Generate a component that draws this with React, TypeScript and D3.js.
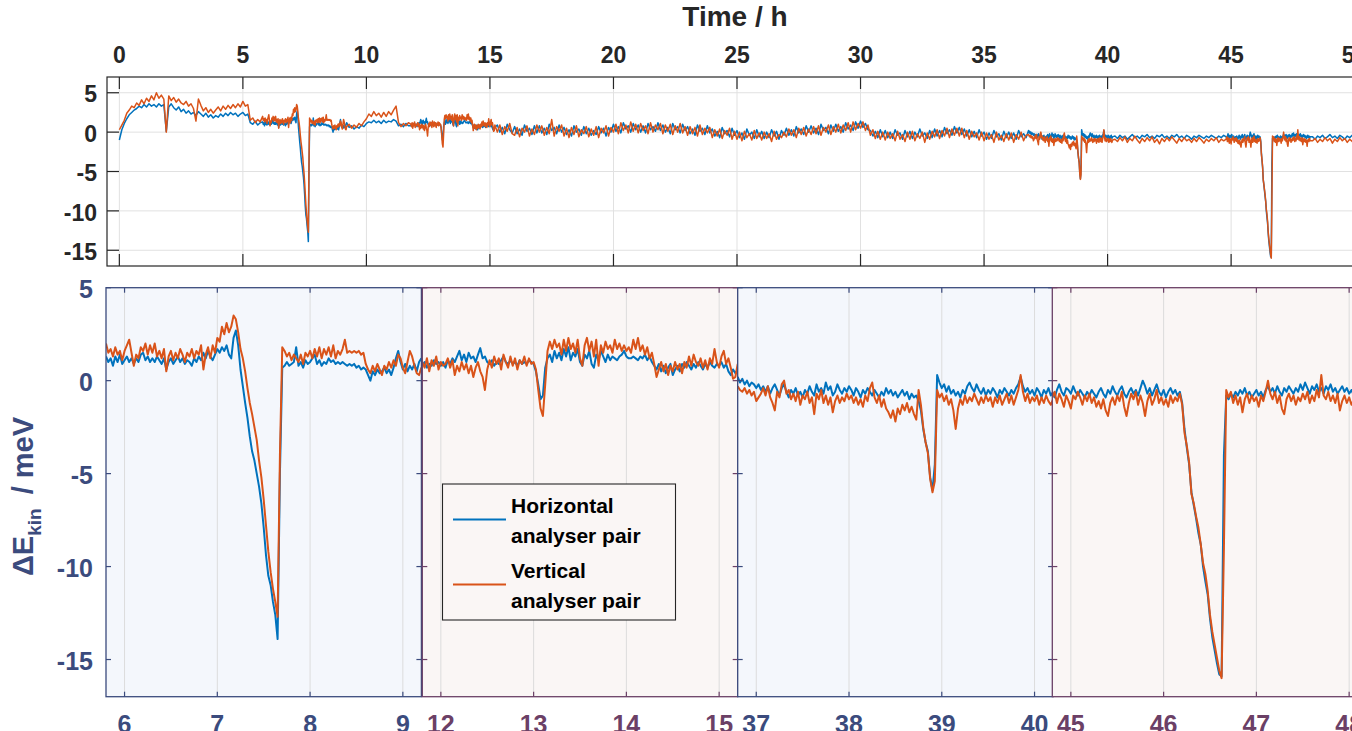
import React from 'react';
import * as d3 from 'd3';

// ---------------- DATA ----------------
// Overview (top panel) sampled every 0.1 h, windows (bottom panels) every 0.025 h
const overviewStep = 0.1;
const windowStep = 0.025;
const overviewStarts = [0, 9.3, 15.3, 40.3, 48.3];
const windowLimits: [number, number][] = [[5.8, 9.2], [11.8, 15.2], [36.8, 40.2], [44.8, 48.2]];

const hOverA = [-1.0,0.3,1.1,1.7,2.2,2.5,2.8,3.0,3.3,3.1,
3.5,3.2,3.6,3.3,3.5,3.2,3.6,3.3,3.5,0.1,
3.2,3.6,3.1,2.8,3.2,2.6,2.9,2.4,2.7,2.3,
2.5,2.1,2.6,2.3,2.0,2.4,1.9,2.2,1.8,2.1,
1.9,2.3,2.0,2.4,2.1,2.5,2.2,2.4,2.0,2.3,
2.5,2.1,2.3,1.2,1.0,1.4,0.9,1.2];
const vOverA = [0.3,0.9,1.5,2.4,2.8,3.3,3.1,3.7,3.4,4.1,
3.6,4.3,3.9,4.6,4.1,5.0,4.3,4.7,4.2,0.0,
4.6,4.0,4.4,3.8,4.2,3.7,3.5,3.9,3.3,3.6,
3.0,1.4,4.2,3.4,2.7,3.1,2.5,2.9,2.4,2.8,
3.2,2.7,3.3,2.9,3.4,3.0,3.5,3.1,3.6,3.2,
3.9,3.3,3.5,1.5,1.8,1.2,1.6,1.3];

const hOverB = [0.6,0.8,0.4,0.7,0.5,0.9,0.7,1.1,1.3,1.2,1.5,1.2,1.4,1.1,1.5,1.2,1.4,1.3,1.6,1.4,0.8,1.0,0.7,1.1,0.8];
const vOverB = [1.0,0.5,0.9,0.6,1.1,0.8,1.3,1.7,2.3,2.0,2.6,2.1,2.4,1.9,2.5,2.0,2.6,2.2,2.8,3.3,1.2,0.7,1.1,0.8,1.2];

const hOverC = [0.9,0.0,0.6,-0.2,1.0,0.3,-0.1,
0.7,-0.2,0.4,-0.4,0.9,0.1,0.5,-0.3,0.8,-0.1,
0.8,-0.1,0.5,-0.3,1.0,0.2,0.6,-0.2,0.9,0.0,
0.6,-0.3,0.3,-0.5,0.8,0.0,0.4,-0.4,0.7,-0.2,
0.5,-0.4,0.2,-0.3,0.7,-0.1,0.5,-0.5,0.6,0.0,
1.0,0.1,0.7,-0.1,1.2,0.4,0.8,0.0,1.1,0.3,
0.9,0.0,0.8,-0.1,1.1,0.3,0.7,0.1,1.2,0.2,
0.9,0.0,0.6,-0.2,1.1,0.3,0.7,-0.1,1.0,0.2,
0.7,-0.2,0.4,-0.4,0.9,0.1,0.5,-0.3,0.8,-0.1,
0.4,-0.5,0.1,-0.7,0.6,-0.2,0.2,-0.6,0.5,-0.4,
0.2,-0.7,-0.1,-0.9,0.4,-0.4,0.0,-0.8,0.3,-0.6,
0.1,-0.8,0.0,-0.7,0.3,-0.5,0.1,-0.9,0.2,-0.4,
0.5,-0.4,0.3,-0.5,0.7,-0.1,0.4,-0.3,0.8,0.0,
0.8,-0.1,0.5,-0.3,1.0,0.2,0.6,-0.2,0.9,0.1,
1.0,0.1,0.7,0.0,1.2,0.4,0.9,0.2,1.3,0.5,
1.4,0.6,1.1,0.3,0.2,-0.5,0.1,-0.7,0.3,-0.6,
0.2,-0.7,0.0,-0.8,0.3,-0.4,-0.1,-0.9,0.2,-0.6,
0.1,-0.8,0.0,-0.6,0.4,-0.5,-0.1,-0.8,0.2,-0.7,
0.4,-0.5,0.2,-0.6,0.6,-0.2,0.3,-0.4,0.7,-0.1,
0.6,-0.3,0.4,-0.5,0.3,-0.6,0.1,-0.7,0.3,-0.5,
0.0,-0.9,-0.1,-0.8,0.2,-0.6,-0.2,-1.0,0.1,-0.7,
0.0,-0.8,-0.1,-0.9,0.2,-0.6,-0.2,-0.7];
const vOverC = [0.0,0.9,-0.3,0.7,0.1,1.1,-0.2,
-0.4,0.6,-0.6,0.5,0.0,0.8,-0.5,0.4,-0.3,0.9,
0.0,0.8,-0.4,0.6,-0.2,1.6,-0.5,0.7,0.1,0.9,
-0.5,0.5,-0.7,0.6,-0.3,0.8,-0.6,0.3,-0.2,0.7,
-0.6,0.4,-0.4,0.7,-0.7,0.5,-0.1,0.8,-0.5,0.6,
0.0,1.0,-0.2,1.2,0.2,0.9,-0.1,1.3,0.1,1.0,
-0.1,1.1,0.2,0.8,-0.2,1.2,0.0,0.9,0.3,1.1,
-0.2,0.9,0.1,1.0,-0.3,0.8,0.0,1.1,-0.1,0.7,
-0.4,0.7,-0.2,0.6,-0.5,0.9,-0.3,0.5,-0.1,0.6,
-0.7,0.3,-0.5,0.4,-0.8,0.2,-0.4,0.5,-0.9,0.1,
-0.9,0.0,-1.1,0.1,-0.7,-0.2,-1.0,0.2,-0.8,-0.1,
-1.0,0.0,-0.8,-0.2,-1.2,0.1,-0.9,-0.3,-0.7,0.0,
-0.6,0.4,-0.4,0.3,-0.7,0.5,-0.3,0.6,-0.5,0.4,
-0.3,0.7,-0.2,0.8,-0.4,0.6,0.0,0.9,-0.3,0.7,
0.0,1.0,-0.1,0.9,0.2,1.2,0.0,1.3,0.3,1.1,
0.5,1.3,0.2,0.9,-0.4,0.3,-0.8,0.1,-0.9,0.0,
-1.0,0.0,-0.8,-0.2,-1.1,0.1,-0.9,-0.3,-1.2,0.0,
-0.9,0.1,-1.1,-0.2,-0.8,0.0,-1.3,-0.1,-0.9,0.1,
-0.6,0.3,-0.8,0.2,-0.5,0.5,-0.7,0.4,-0.4,0.5,
-0.5,0.5,-0.7,0.2,-0.9,0.1,-0.6,-0.1,-1.0,0.0,
-1.1,-0.1,-0.9,-0.3,-1.3,0.0,-1.0,-0.4,-1.2,-0.2,
-1.0,-0.1,-1.3,-0.3,-0.9,0.0,-1.1,-0.4];

const hOverD = [-0.5,-0.8,-0.4,-0.7,-0.5,-0.9,-0.6,
-0.3,-0.7,-0.5,-0.8,-0.4,-0.6,-0.3,-0.7,-0.5,-0.8,
-0.4,-0.6,-0.3,-0.7,-0.5,-0.8,-0.4,-0.6,-0.3,-0.7,
-0.5,-0.8,-0.4,-0.6,-0.9,-0.5,-0.7,-0.4,-0.6,-0.8,
-0.5,-0.7,-0.4,-0.6,-0.8,-0.5,-0.7,-0.4];
const vOverD = [-0.9,-1.2,-0.7,-1.1,-0.6,-1.3,-0.8,
-1.1,-0.5,-1.0,-1.4,-0.8,-1.2,-0.7,-1.1,-0.6,-1.3,
-0.9,-1.5,-0.8,-1.2,-0.7,-1.1,-0.6,-1.0,-1.4,-0.8,
-1.2,-0.7,-1.1,-0.9,-1.3,-0.8,-1.2,-0.7,-1.0,-1.4,
-0.9,-1.2,-0.8,-1.1,-0.7,-1.3,-0.9,-1.1];

const hOverE = [-0.6,-0.9,-0.5,-0.7,-0.4,-0.8,-0.6,-0.3,-0.7,-0.5,-0.8,-0.4,-0.6,-0.9,-0.5,-0.7,-0.4,-0.6,-0.8,-0.5,-0.7,-0.4,-0.6,-0.8];
const vOverE = [-1.1,-0.8,-1.3,-0.9,-1.2,-0.7,-1.1,-0.8,-1.4,-0.9,-1.2,-0.7,-1.1,-0.8,-1.3,-0.9,-1.2,-0.7,-1.1,-0.8,-1.2,-0.9,-1.1,-0.8];

const hWin1 = [1.3,1.0,1.2,0.8,1.3,1.0,1.4,0.9,
1.1,1.3,1.0,1.2,0.9,1.2,1.0,1.4,
1.5,1.1,1.3,1.0,1.2,1.0,1.3,1.1,
0.9,1.2,0.6,1.0,1.2,0.9,1.1,1.3,
1.0,1.2,0.9,1.1,1.0,0.8,1.2,1.0,
1.3,1.1,1.5,1.2,1.6,1.3,1.1,1.4,
1.7,1.5,1.8,1.6,1.9,1.4,1.2,2.3,
2.7,1.9,0.6,-0.3,-1.2,-2.0,-3.0,-3.8,
-4.3,-5.0,-5.7,-6.6,-7.9,-9.4,-10.5,-11.0,
-11.9,-12.6,-13.9,-5.0,0.7,0.8,1.0,0.8,
0.9,1.0,1.8,0.8,1.0,0.7,1.1,0.9,
1.0,1.2,1.4,0.9,1.1,0.8,1.0,0.9,
1.2,1.0,1.1,0.9,1.0,0.9,1.0,0.9,
0.8,0.9,0.8,0.9,0.7,0.8,0.6,0.7,
0.6,0.3,0.0,0.5,0.3,0.6,0.4,0.5,
0.7,0.4,0.6,0.3,0.7,1.2,1.6,1.0,
0.6,0.9,0.5,0.8,0.6,0.9,0.5,1.0,
1.2];
const vWin1 = [2.0,1.5,1.7,1.3,1.8,1.4,1.6,1.1,
1.6,1.9,2.2,1.5,0.8,1.4,1.2,1.8,
1.6,2.0,1.4,1.9,1.5,2.0,1.3,1.6,
1.2,1.7,0.5,1.3,1.6,1.1,1.5,1.2,
1.7,1.4,1.0,1.5,1.3,1.7,1.2,1.6,
1.4,1.9,0.6,1.4,1.8,1.2,1.9,1.5,
2.3,2.1,2.9,2.5,3.1,2.6,2.9,3.5,
3.3,2.6,1.7,1.2,0.5,-0.4,-1.2,-1.8,
-2.5,-3.2,-4.3,-5.2,-6.4,-7.8,-9.2,-10.3,
-11.2,-11.9,-12.7,-4.0,1.8,1.6,1.3,1.5,
1.1,1.4,1.2,1.0,1.4,0.9,1.5,1.3,
1.6,1.2,1.7,1.3,1.8,1.2,1.7,1.4,
1.8,1.3,1.9,1.2,1.6,1.4,1.7,2.2,
1.5,1.6,1.5,1.6,1.5,1.6,1.4,1.5,
0.9,0.6,0.4,0.8,0.5,0.9,0.6,0.3,
0.8,0.6,1.0,0.7,1.1,0.8,1.4,1.2,
0.7,0.4,1.0,1.6,1.3,0.8,0.4,0.3,
0.7];

const hWin2 = [0.8,1.0,0.7,0.9,0.8,1.1,0.9,1.0,
0.8,1.0,0.7,1.1,0.9,1.2,1.0,1.3,
1.6,1.1,1.4,1.0,1.5,1.2,1.3,1.0,
1.4,1.75,1.2,1.3,1.0,0.9,1.1,0.8,
1.0,0.9,1.1,1.3,1.0,0.9,1.1,0.9,
1.0,0.8,1.1,0.9,1.0,0.9,1.1,1.0,
0.9,0.5,-0.2,-1.0,-0.8,0.7,1.2,1.4,
1.0,1.6,1.2,1.5,1.1,1.7,1.3,1.8,
1.1,1.5,1.3,1.7,1.0,0.8,1.4,1.2,
1.6,0.9,0.7,1.4,1.1,1.6,1.3,1.0,
1.4,1.1,1.3,1.2,1.1,1.3,1.4,1.6,
1.3,1.2,1.2,1.3,1.2,1.1,1.3,1.2,
1.4,1.1,1.3,1.0,0.8,0.6,0.9,0.5,
0.8,0.4,0.7,0.9,0.3,0.6,0.8,0.5,
0.9,0.7,1.0,0.8,0.6,0.9,0.7,1.0,
0.8,0.6,0.9,0.7,1.0,0.8,0.7,0.9,
0.8,1.0,0.7,0.9,0.5,0.3,0.6,0.4,
0.6];
const vWin2 = [1.0,0.7,1.2,0.5,1.1,0.8,1.3,0.6,
1.0,0.8,0.9,1.2,0.7,1.1,0.3,0.8,
0.5,1.0,0.6,0.9,0.4,0.8,0.2,0.7,
1.0,0.5,0.2,-0.5,0.6,1.1,0.7,1.3,
0.9,1.2,0.6,1.4,1.0,0.7,1.3,0.8,
1.2,0.6,1.1,0.9,1.3,0.8,1.2,0.9,
1.0,0.6,-0.5,-1.5,-1.9,-0.2,1.6,2.1,
1.7,2.2,1.8,2.0,1.4,2.2,1.6,2.3,
1.7,2.0,1.5,2.2,1.2,0.8,1.9,2.3,
1.6,2.1,1.3,2.2,0.8,1.9,1.5,2.1,
1.7,1.9,1.5,2.2,1.7,2.0,1.6,1.9,
1.6,1.8,1.5,2.2,1.7,2.3,1.6,1.9,
1.4,1.8,1.2,1.5,0.9,0.2,0.6,1.0,
0.5,0.9,0.3,0.8,0.5,1.0,0.6,0.9,
0.4,1.0,0.7,1.3,0.8,1.4,1.0,0.8,
1.2,0.7,1.1,0.6,1.2,0.9,1.7,1.0,
0.7,1.3,1.6,0.9,1.2,0.7,0.1,0.2,
0.9];

const hWin3 = [0.2,-0.1,0.1,-0.2,0.0,-0.3,-0.1,-0.2,
-0.4,-0.2,-0.5,-0.3,-0.6,-0.3,-0.7,-0.4,
-0.2,-0.5,-0.8,-0.4,-0.2,-0.6,-0.9,-0.5,
-0.7,-0.4,-0.8,-0.6,-0.9,-0.5,-0.7,-0.3,
-0.6,-0.8,-0.2,-0.6,-0.4,-0.7,-0.1,-0.5,
-0.3,-0.8,-0.6,-0.2,-0.5,-0.7,-0.4,-0.6,
-0.3,-0.5,-0.8,-0.4,-0.6,-0.9,-0.5,-0.7,
-0.4,-0.6,-0.8,-0.5,-0.7,-0.9,-0.6,-0.8,
-0.4,-0.7,-0.5,-0.8,-0.6,-0.9,-0.7,-0.5,
-0.8,-0.6,-1.0,-0.7,-0.9,-0.8,-1.1,-1.6,
-2.6,-3.3,-3.8,-5.2,-5.9,-4.5,0.3,-0.1,
-0.4,-0.2,-0.6,-0.3,-0.7,-0.5,-0.8,-0.6,
-0.9,-0.5,-0.7,-0.3,-0.1,-0.4,-0.6,-0.2,
-0.5,-0.7,-0.4,-0.8,-0.5,-0.7,-0.4,-0.6,
-0.9,-0.5,-0.7,-0.4,-0.6,-0.8,-0.5,-0.7,
-0.4,-0.2,0.2,-0.3,-0.6,-0.4,-0.7,-0.5,
-0.8,-0.4,-0.6,-0.9,-0.5,-0.7,-0.4,-0.8,
-0.6];
const vWin3 = [-0.3,-0.5,-0.6,-0.4,-0.7,-0.5,-0.8,-0.6,
-1.1,-0.9,-0.7,-0.4,-0.8,-0.3,-0.9,-1.2,
-1.6,-0.6,-0.9,-0.2,0.0,-0.7,-0.5,-1.0,
-0.7,-1.1,-0.6,-1.3,-0.8,-1.0,-0.6,-1.2,
-0.9,-1.8,-0.7,-1.0,-0.5,-1.2,-0.8,-1.3,
-0.9,-1.7,-1.1,-0.8,-1.2,-0.9,-1.1,-0.7,
-1.0,-0.8,-1.2,-0.9,-1.3,-1.0,-1.4,-0.8,
-1.1,-0.4,-0.1,-0.9,-1.2,-0.8,-1.4,-1.0,
-1.5,-1.7,-2.0,-1.6,-2.2,-1.5,-1.8,-1.3,
-1.6,-1.2,-1.7,-1.4,-1.8,-2.1,-0.5,-1.3,
-2.5,-3.3,-3.9,-5.3,-6.0,-5.4,-0.5,-0.9,
-0.7,-1.1,-0.8,-1.3,-1.0,-1.6,-2.6,-1.5,
-1.0,-1.3,-0.8,-1.2,-0.9,-1.1,-0.7,-1.0,
-1.3,-0.9,-1.2,-0.8,-1.1,-0.9,-1.4,-0.9,
-1.2,-0.8,-1.3,-1.0,-0.7,-1.2,-0.8,-1.3,
-0.9,-0.5,0.3,-0.6,-1.1,-0.7,-1.2,-0.9,
-1.1,-0.8,-1.3,-0.9,-1.2,-0.8,-1.1,-1.3,
-1.0];

const hWin4 = [-0.6,-0.9,-0.5,-0.2,-0.6,-0.8,-0.4,-0.5,
-0.7,-0.3,-0.6,-0.8,-0.5,-0.7,-0.9,-0.6,
-0.8,-0.5,-0.7,-0.9,-0.6,-0.4,-0.7,-0.9,
-0.5,-0.7,-0.3,-0.6,-0.8,-0.5,-0.3,-0.7,
-0.9,-0.6,-0.4,-0.7,-0.5,-0.8,-0.4,0.0,
-0.3,-0.7,-0.4,-0.8,-0.5,-0.2,-0.6,-0.8,
-0.5,-0.9,-0.6,-0.4,-0.7,-0.5,-0.8,-0.6,
-1.2,-2.6,-3.6,-4.5,-6.0,-6.7,-7.4,-8.2,
-8.8,-10.0,-10.8,-11.5,-12.8,-13.8,-14.5,-15.2,
-15.8,-15.9,-4.0,-0.8,-1.0,-0.7,-0.9,-0.6,
-0.8,-0.5,-0.7,-0.4,-0.8,-0.6,-0.9,-0.7,
-0.5,-0.8,-0.6,-0.9,-0.5,-0.3,-0.6,-0.4,
-0.7,-0.3,-0.6,-0.8,-0.4,-0.6,-0.3,-0.5,
-0.7,-0.4,-0.6,-0.2,-0.5,-0.1,-0.4,-0.7,
-0.3,-0.5,-0.2,-0.6,-0.4,-0.7,-0.3,-0.5,
-0.2,-0.6,-0.4,-0.7,-0.5,-0.3,-0.6,-0.4,
-0.7,-0.5,-0.8,-0.6,-0.4,-0.7,-0.5,-0.8,
-0.6];
const vWin4 = [-0.9,-0.6,-1.2,-0.7,-1.0,-1.4,-0.8,-1.1,
-1.5,-0.8,-1.0,-0.6,-0.9,-1.3,-0.8,-1.1,
-0.7,-1.2,-0.9,-1.4,-1.1,-1.5,-1.0,-1.6,
-1.9,-1.2,-0.9,-1.3,-0.8,-1.1,-0.6,-1.4,
-1.9,-1.2,-0.7,-1.0,-0.6,-1.3,-0.8,-1.2,
-1.9,-1.1,-0.7,-1.3,-1.0,-0.5,-1.2,-0.9,
-1.3,-1.0,-1.4,-0.8,-1.2,-0.9,-1.1,-0.7,
-1.3,-2.8,-3.5,-4.4,-6.1,-6.6,-7.3,-7.9,
-8.8,-9.8,-10.4,-11.3,-12.6,-13.5,-14.2,-14.9,
-15.6,-16.0,-9.0,-0.5,-0.9,-0.6,-1.2,-0.8,
-1.3,-0.9,-1.7,-1.0,-0.7,-1.2,-0.8,-1.1,
-0.9,-1.4,-0.8,-1.1,-0.6,0.0,-0.7,-1.0,
-0.6,-1.2,-0.8,-1.5,-1.8,-1.0,-0.7,-1.1,
-0.8,-1.3,-0.9,-1.1,-0.7,-1.0,-0.6,-1.2,
-0.8,-1.1,-0.5,-0.9,0.3,-0.8,-1.0,-0.6,
-1.1,-0.8,-1.2,-0.7,-1.6,-1.1,-0.8,-1.2,
-0.9,-1.3,-1.0,-1.8,-1.1,-0.9,-1.2,-0.8,
-1.1];

const topXTicks = [0, 5, 10, 15, 20, 25, 30, 35, 40, 45, 50];
const yTicks = [5, 0, -5, -10, -15];
const seriesNames = ['Horizontal analyser pair', 'Vertical analyser pair'];

// ---------------- STYLE ----------------
const FONT = "'Liberation Sans', Arial, Helvetica, sans-serif";
const BLUE = '#0072BD';
const ORANGE = '#D95319';
const AXIS = '#262626';
const GRID = '#e1e1e1';
const NAVY = '#3b4b7d';
const PLUM = '#6b4066';
const themes = [
  { bg: '#f4f7fc', stroke: NAVY },
  { bg: '#faf6f5', stroke: PLUM },
  { bg: '#f4f7fc', stroke: NAVY },
  { bg: '#faf6f5', stroke: PLUM },
];

type Pt = [number, number];
const seg = (start: number, step: number, vals: number[]): Pt[] =>
  vals.map((v, i) => [start + i * step, v] as Pt);

export default function App() {
  const hOver = [hOverA, hOverB, hOverC, hOverD, hOverE];
  const vOver = [vOverA, vOverB, vOverC, vOverD, vOverE];
  const hWin = [hWin1, hWin2, hWin3, hWin4];
  const vWin = [vWin1, vWin2, vWin3, vWin4];

  const build = (over: number[][], win: number[][]) => {
    const pts: Pt[] = [];
    over.forEach((o, k) => {
      pts.push(...seg(overviewStarts[k], overviewStep, o));
      if (k < win.length) pts.push(...seg(windowLimits[k][0], windowStep, win[k]));
    });
    return pts.sort((a, b) => a[0] - b[0]);
  };
  const hAll = build(hOver, hWin);
  const vAll = build(vOver, vWin);

  // top axes
  const tL = 107, tR = 1367, tT = 77, tB = 266;
  const xTop = d3.scaleLinear().domain([-0.5, 50.5]).range([tL, tR]);
  const yTop = d3.scaleLinear().domain([-17, 7]).range([tB, tT]);
  const lineTop = d3.line<Pt>().x(d => xTop(d[0])).y(d => yTop(d[1]));

  // bottom panels
  const bT = 287.7, bB = 696.7;
  const panelLeft = [106, 422.3, 737.7, 1052.3];
  const panelW = 315.4;
  const yBot = d3.scaleLinear().domain([-17, 5]).range([bB, bT]);
  const tickLen = 12;
  const smallTick = 5;

  return (
    <svg width={1352} height={731} style={{ position: 'absolute', left: 0, top: 0, background: '#fff' }}
      fontFamily={FONT} fontWeight="bold">
      <defs>
        <clipPath id="clipTop"><rect x={tL} y={tT} width={tR - tL} height={tB - tT} /></clipPath>
        {panelLeft.map((l, i) => (
          <clipPath id={`clipP${i}`} key={i}><rect x={l} y={bT} width={panelW} height={bB - bT} /></clipPath>
        ))}
      </defs>

      {/* ---------- TOP AXES ---------- */}
      <rect x={tL} y={tT} width={tR - tL} height={tB - tT} fill="#fff" />
      {topXTicks.map(t => (
        <line key={'gx' + t} x1={xTop(t)} x2={xTop(t)} y1={tT} y2={tB} stroke={GRID} strokeWidth={1} />
      ))}
      {yTicks.map(t => (
        <line key={'gy' + t} x1={tL} x2={tR} y1={yTop(t)} y2={yTop(t)} stroke={GRID} strokeWidth={1} />
      ))}
      <g clipPath="url(#clipTop)" fill="none" strokeLinejoin="round">
        <path d={lineTop(hAll) || ''} stroke={BLUE} strokeWidth={1.5} />
        <path d={lineTop(vAll) || ''} stroke={ORANGE} strokeWidth={1.5} />
      </g>
      <rect x={tL} y={tT} width={tR - tL} height={tB - tT} fill="none" stroke={AXIS} strokeWidth={1.2} />
      {topXTicks.map(t => (
        <g key={'tx' + t}>
          <line x1={xTop(t)} x2={xTop(t)} y1={tT} y2={tT + tickLen} stroke={AXIS} strokeWidth={1.2} />
          <line x1={xTop(t)} x2={xTop(t)} y1={tB} y2={tB - tickLen} stroke={AXIS} strokeWidth={1.2} />
          <text x={xTop(t)} y={63} textAnchor="middle" fontSize={23} fill={AXIS}>{t}</text>
        </g>
      ))}
      {yTicks.map(t => (
        <g key={'ty' + t}>
          <line x1={tL} x2={tL + tickLen} y1={yTop(t)} y2={yTop(t)} stroke={AXIS} strokeWidth={1.2} />
          <text x={97} y={yTop(t)} dy="0.42em" textAnchor="end" fontSize={23} fill={AXIS}>{t}</text>
        </g>
      ))}
      <text x={735} y={26} textAnchor="middle" fontSize={28} fill={AXIS}>Time / h</text>

      {/* ---------- BOTTOM PANELS ---------- */}
      {windowLimits.map((lim, i) => {
        const l = panelLeft[i];
        const x = d3.scaleLinear().domain(lim).range([l, l + panelW]);
        const ticks = d3.range(Math.ceil(lim[0]), Math.floor(lim[1]) + 1);
        const th = themes[i];
        const ln = d3.line<Pt>().x(d => x(d[0])).y(d => yBot(d[1]));
        const hp = seg(lim[0], windowStep, hWin[i]);
        const vp = seg(lim[0], windowStep, vWin[i]);
        return (
          <g key={'p' + i}>
            <rect x={l} y={bT} width={panelW} height={bB - bT} fill={th.bg} />
            {ticks.map(t => (
              <line key={'g' + t} x1={x(t)} x2={x(t)} y1={bT} y2={bB} stroke="#dcdcdc" strokeWidth={1} />
            ))}
            <g clipPath={`url(#clipP${i})`} fill="none" strokeLinejoin="round">
              <path d={ln(hp) || ''} stroke={BLUE} strokeWidth={2} />
              <path d={ln(vp) || ''} stroke={ORANGE} strokeWidth={2} />
            </g>
            <rect x={l} y={bT} width={panelW} height={bB - bT} fill="none" stroke={th.stroke} strokeWidth={1.3} />
            {ticks.map(t => (
              <g key={'t' + t}>
                <line x1={x(t)} x2={x(t)} y1={bB} y2={bB - smallTick} stroke={th.stroke} strokeWidth={1.2} />
                <line x1={x(t)} x2={x(t)} y1={bT} y2={bT + smallTick} stroke={th.stroke} strokeWidth={1.2} />
                <text x={x(t)} y={733} textAnchor="middle" fontSize={25} fill={th.stroke}>{t}</text>
              </g>
            ))}
            {yTicks.map(t => (
              <g key={'y' + t}>
                <line x1={l} x2={l + smallTick} y1={yBot(t)} y2={yBot(t)} stroke={th.stroke} strokeWidth={1.2} />
                <line x1={l + panelW} x2={l + panelW - smallTick} y1={yBot(t)} y2={yBot(t)} stroke={th.stroke} strokeWidth={1.2} />
              </g>
            ))}
          </g>
        );
      })}
      {yTicks.map(t => (
        <text key={'yl' + t} x={93} y={yBot(t)} dy="0.42em" textAnchor="end" fontSize={25} fill={NAVY}>{t}</text>
      ))}
      <text transform="translate(33,576) rotate(-90)" fontSize={29} fill={NAVY}>
        <tspan>ΔE</tspan>
        <tspan fontSize={19} dy={8}>kin</tspan>
        <tspan dy={-8} dx={14}>/ meV</tspan>
      </text>

      {/* ---------- LEGEND ---------- */}
      <g>
        <rect x={442.5} y={484} width={233} height={136} fill="#faf6f5" stroke={AXIS} strokeWidth={1.1} />
        <line x1={453} x2={506} y1={519.5} y2={519.5} stroke={BLUE} strokeWidth={2} />
        <line x1={453} x2={506} y1={584.5} y2={584.5} stroke={ORANGE} strokeWidth={2} />
        <text fontSize={21} fill="#000">
          <tspan x={511} y={513}>{seriesNames[0].split(' ')[0]}</tspan>
          <tspan x={511} y={543}>{seriesNames[0].split(' ').slice(1).join(' ')}</tspan>
          <tspan x={511} y={578}>{seriesNames[1].split(' ')[0]}</tspan>
          <tspan x={511} y={608}>{seriesNames[1].split(' ').slice(1).join(' ')}</tspan>
        </text>
      </g>
    </svg>
  );
}
